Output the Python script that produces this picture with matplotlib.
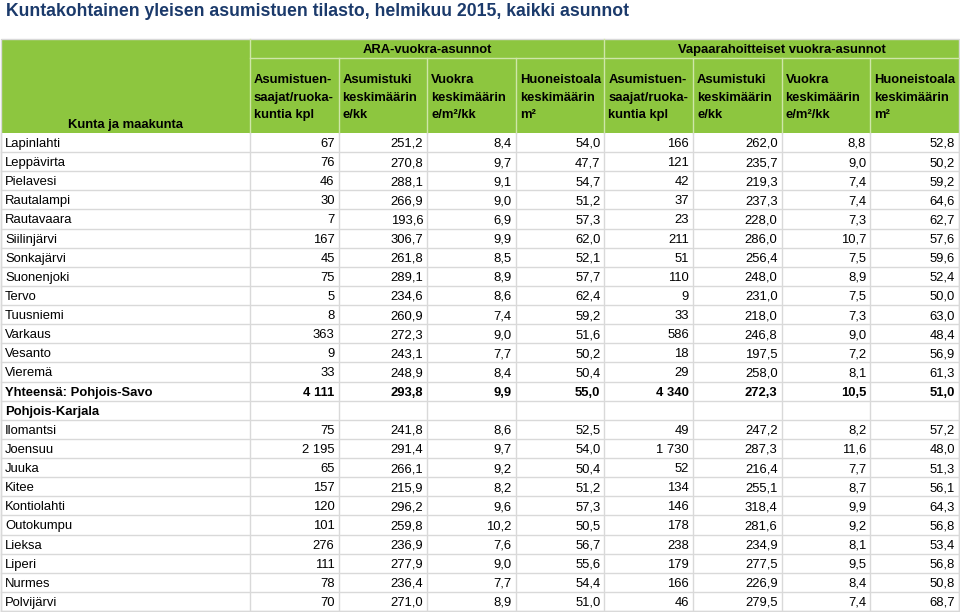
import matplotlib.pyplot as plt
from matplotlib.patches import Rectangle

plt.rcParams['font.family'] = ['Liberation Sans', 'DejaVu Sans']

title = 'Kuntakohtainen yleisen asumistuen tilasto, helmikuu 2015, kaikki asunnot'
groups = ['ARA-vuokra-asunnot', 'Vapaarahoitteiset vuokra-asunnot']
col_heads = ['Asumistuen-\nsaajat/ruoka-\nkuntia kpl', 'Asumistuki\nkeskimäärin\ne/kk',
             'Vuokra\nkeskimäärin\ne/m²/kk', 'Huoneistoala\nkeskimäärin\nm²']
first_head = 'Kunta ja maakunta'

names = ['Lapinlahti', 'Leppävirta', 'Pielavesi', 'Rautalampi', 'Rautavaara', 'Siilinjärvi',
         'Sonkajärvi', 'Suonenjoki', 'Tervo', 'Tuusniemi', 'Varkaus', 'Vesanto', 'Vieremä',
         'Yhteensä: Pohjois-Savo', 'Pohjois-Karjala', 'Ilomantsi', 'Joensuu', 'Juuka', 'Kitee',
         'Kontiolahti', 'Outokumpu', 'Lieksa', 'Liperi', 'Nurmes', 'Polvijärvi']
bold_rows = ['Yhteensä: Pohjois-Savo', 'Pohjois-Karjala']

# ARA-vuokra-asunnot
ara_kpl = [67, 76, 46, 30, 7, 167, 45, 75, 5, 8, 363, 9, 33, 4111, None,
           75, 2195, 65, 157, 120, 101, 276, 111, 78, 70]
ara_tuki = [251.2, 270.8, 288.1, 266.9, 193.6, 306.7, 261.8, 289.1, 234.6, 260.9, 272.3, 243.1, 248.9,
            293.8, None, 241.8, 291.4, 266.1, 215.9, 296.2, 259.8, 236.9, 277.9, 236.4, 271.0]
ara_vuokra = [8.4, 9.7, 9.1, 9.0, 6.9, 9.9, 8.5, 8.9, 8.6, 7.4, 9.0, 7.7, 8.4, 9.9, None,
              8.6, 9.7, 9.2, 8.2, 9.6, 10.2, 7.6, 9.0, 7.7, 8.9]
ara_ala = [54.0, 47.7, 54.7, 51.2, 57.3, 62.0, 52.1, 57.7, 62.4, 59.2, 51.6, 50.2, 50.4, 55.0, None,
           52.5, 54.0, 50.4, 51.2, 57.3, 50.5, 56.7, 55.6, 54.4, 51.0]
# Vapaarahoitteiset vuokra-asunnot
vr_kpl = [166, 121, 42, 37, 23, 211, 51, 110, 9, 33, 586, 18, 29, 4340, None,
          49, 1730, 52, 134, 146, 178, 238, 179, 166, 46]
vr_tuki = [262.0, 235.7, 219.3, 237.3, 228.0, 286.0, 256.4, 248.0, 231.0, 218.0, 246.8, 197.5, 258.0,
           272.3, None, 247.2, 287.3, 216.4, 255.1, 318.4, 281.6, 234.9, 277.5, 226.9, 279.5]
vr_vuokra = [8.8, 9.0, 7.4, 7.4, 7.3, 10.7, 7.5, 8.9, 7.5, 7.3, 9.0, 7.2, 8.1, 10.5, None,
             8.2, 11.6, 7.7, 8.7, 9.9, 9.2, 8.1, 9.5, 8.4, 7.4]
vr_ala = [52.8, 50.2, 59.2, 64.6, 62.7, 57.6, 59.6, 52.4, 50.0, 63.0, 48.4, 56.9, 61.3, 51.0, None,
          57.2, 48.0, 51.3, 56.1, 64.3, 56.8, 53.4, 56.8, 50.8, 68.7]

columns = [ara_kpl, ara_tuki, ara_vuokra, ara_ala, vr_kpl, vr_tuki, vr_vuokra, vr_ala]


def fmt(v):
    if v is None:
        return ''
    if isinstance(v, int):
        return f'{v:,}'.replace(',', ' ')
    return f'{v:.1f}'.replace('.', ',')


green = '#8dc63f'
hline = '#cfe6a8'
grid = '#d9d9d9'
fs = 9.4

fig = plt.figure(figsize=(9.6, 6.12), dpi=100)
ax = fig.add_axes([0, 0, 1, 1])
ax.set_xlim(0, 960)
ax.set_ylim(612, 0)
ax.axis('off')

ax.text(6, 12, title, fontsize=12.7, fontweight='bold', color='#1b3a6b', va='center', ha='left')

# layout
x0, first_w, col_w = 1, 249, 88.6
xs = [x0, x0 + first_w] + [x0 + first_w + col_w * (i + 1) for i in range(8)]
top, h1, h2 = 39, 58, 133
row_h = (611 - h2) / len(names)

# header background
ax.add_patch(Rectangle((xs[0], top), xs[-1] - xs[0], h2 - top, facecolor=green, edgecolor='none'))
ax.plot([xs[1], xs[-1]], [h1, h1], color=hline, lw=1)
for i, x in enumerate(xs):
    if i in (0, 9):
        continue
    y_start = top if i in (1, 5) else h1
    ax.plot([x, x], [y_start, h2], color=hline, lw=1)

for g, (a, b) in zip(groups, [(xs[1], xs[5]), (xs[5], xs[9])]):
    ax.text((a + b) / 2, 53, g, fontsize=fs, fontweight='bold', ha='center', va='baseline')
for i in range(8):
    ax.text(xs[i + 1] + 4, 118, col_heads[i % 4], fontsize=fs, fontweight='bold',
            ha='left', va='baseline', linespacing=1.6, multialignment='left')
ax.text((xs[0] + xs[1]) / 2, 128, first_head, fontsize=fs, fontweight='bold',
        ha='center', va='baseline')

# body
for r, name in enumerate(names):
    ybase = h2 + row_h * r + 14
    w = 'bold' if name in bold_rows else 'normal'
    ax.text(xs[0] + 4, ybase, name, fontsize=fs, fontweight=w, ha='left', va='baseline')
    for c, col in enumerate(columns):
        ax.text(xs[c + 2] - 4, ybase, fmt(col[r]), fontsize=fs, fontweight=w,
                ha='right', va='baseline')
    ax.plot([xs[0], xs[-1]], [h2 + row_h * (r + 1)] * 2, color=grid, lw=1)

for x in xs:
    ax.plot([x, x], [h2, 611], color=grid, lw=1)
ax.add_patch(Rectangle((xs[0], top), xs[-1] - xs[0], 611 - top, facecolor='none',
                       edgecolor=grid, lw=1))

fig.savefig('out.png', dpi=100)
